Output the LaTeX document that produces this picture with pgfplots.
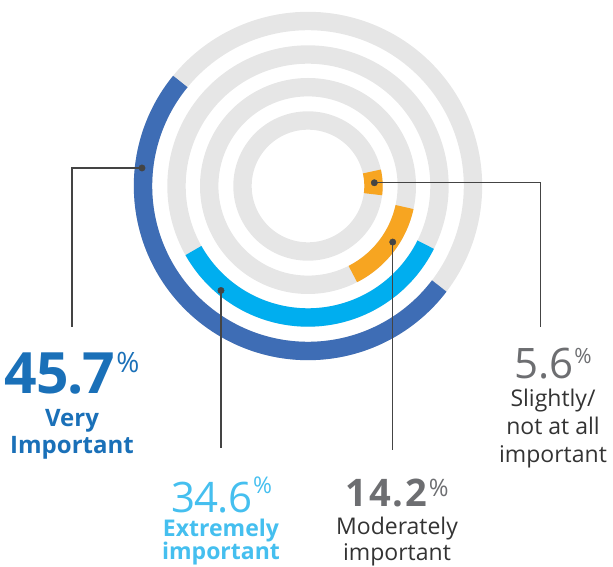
\documentclass[border=0pt]{standalone}
\usepackage{fontspec}
\setmainfont{Open Sans}
\usepackage{pgfplots}
\usepgfplotslibrary{polar}
\pgfplotsset{compat=1.18}

\definecolor{ringblue}{HTML}{3E6DB5}
\definecolor{ringcyan}{HTML}{00AEEF}
\definecolor{ringorange}{HTML}{F7A521}
\definecolor{ringgray}{HTML}{E6E6E6}
\definecolor{numblue}{HTML}{1A70B8}
\definecolor{numcyan}{HTML}{45BFEF}
\definecolor{numgray}{HTML}{6D6E71}
\definecolor{txtdark}{HTML}{333333}
\definecolor{leader}{HTML}{444444}

% raised percent sign: size, lift
\newcommand{\pct}[2]{\raisebox{#2}{\fontsize{#1}{#1}\selectfont\mdseries\%}}
% big number with no depth, so that it does not reach into the line below
\newcommand{\bignum}[1]{\raisebox{0pt}[\height][0pt]{#1}}

\begin{document}
\begin{tikzpicture}
\path[use as bounding box] (0,0) rectangle (613pt,567pt);

\begin{polaraxis}[
    at={(308pt,381pt)}, anchor=origin,
    scale only axis, width=348pt, height=348pt,
    xmin=0, xmax=360, ymin=0, ymax=174,
    hide axis, clip=false,
]
    % grey tracks
    \addplot[ringgray, line width=18.4pt, domain=0:360, samples=181] {165};
    \addplot[ringgray, line width=18.4pt, domain=0:360, samples=181] {131.5};
    \addplot[ringgray, line width=18.4pt, domain=0:360, samples=181] {98.8};
    \addplot[ringgray, line width=18.4pt, domain=0:360, samples=181] {65.5};

    % arcs as drawn in the picture (start:end angle in degrees)
    \addplot[ringblue, line width=18.4pt, domain=140.7:322.7, samples=120] {165};     % very important
    \addplot[ringcyan, line width=18.4pt, domain=-150.6:-26.5, samples=100] {131.5};  % extremely important
    \addplot[ringorange, line width=18.4pt, domain=-63:-12.3, samples=50] {98.8};     % moderately important
    \addplot[ringorange, line width=18.4pt, domain=-7.2:12.8, samples=20] {65.5};     % slightly / not at all

    % leader dots (angle, radius)
    \addplot[only marks, mark=*, mark size=3.2pt, leader] coordinates {
        (173.8,167) (230.2,136) (-33.5,101.6) (2.8,66.4)};

    \coordinate (d1) at (axis cs:173.8,167);
    \coordinate (d2) at (axis cs:230.2,136);
    \coordinate (d3) at (axis cs:-33.5,101.6);
    \coordinate (d4) at (axis cs:2.8,66.4);
\end{polaraxis}

\coordinate (e2) at (0pt,118.7pt);
\coordinate (e3) at (0pt,117pt);
\draw[leader, line width=1.3pt] (d1) -| (72pt,240.3pt);
\draw[leader, line width=1.3pt] (d2) -- (d2 |- e2);
\draw[leader, line width=1.3pt] (d3) -- (d3 |- e3);
\draw[leader, line width=1.3pt] (d4) -| (540.7pt,240.3pt);

% very important
\node[anchor=base, inner sep=0, text=numblue, font=\fontsize{57}{57}\selectfont\bfseries]
    at (72pt,173.7pt) {\bignum{4\kern-1pt5\kern-1pt.\kern-1pt7\kern1pt\pct{28}{21pt}}};
\node[anchor=base, inner sep=0, text=numblue, font=\fontsize{24}{24}\selectfont\bfseries]
    at (72pt,140.3pt) {Very};
\node[anchor=base, inner sep=0, text=numblue, font=\fontsize{24}{24}\selectfont\bfseries]
    at (72pt,113pt) {Important};

% extremely important
\node[anchor=base, inner sep=0, text=numcyan, font=\fontsize{42}{42}\selectfont]
    at (222pt,54.7pt) {\bignum{3\kern-1pt4\kern-1pt.\kern-1pt6\kern1pt\pct{23}{19pt}}};
\node[anchor=base, inner sep=0, text=numcyan, font=\fontsize{23}{23}\selectfont\bfseries]
    at (221pt,30.3pt) {Extremely};
\node[anchor=base, inner sep=0, text=numcyan, font=\fontsize{23}{23}\selectfont\bfseries]
    at (221pt,7.5pt) {important};

% moderately important
\node[anchor=base, inner sep=0, text=numgray, font=\fontsize{38}{38}\selectfont\bfseries]
    at (397pt,60.3pt) {\bignum{1\kern2pt4\kern2pt.\kern2pt2\kern1.5pt\pct{24}{10pt}}};
\node[anchor=base, inner sep=0, text=txtdark, font=\fontsize{23}{23}\selectfont]
    at (397pt,32pt) {Moderately};
\node[anchor=base, inner sep=0, text=txtdark, font=\fontsize{23}{23}\selectfont]
    at (397pt,6pt) {important};

% slightly / not at all important
\node[anchor=base, inner sep=0, text=numgray, font=\fontsize{42}{42}\selectfont]
    at (553pt,188.7pt) {\bignum{5.6\kern1pt\pct{21}{15pt}}};
\node[anchor=base, inner sep=0, text=txtdark, font=\fontsize{23}{23}\selectfont]
    at (553pt,160pt) {Slightly/};
\node[anchor=base, inner sep=0, text=txtdark, font=\fontsize{23}{23}\selectfont]
    at (553pt,132pt) {not at all};
\node[anchor=base, inner sep=0, text=txtdark, font=\fontsize{23}{23}\selectfont]
    at (553pt,104pt) {important};
\end{tikzpicture}
\end{document}
